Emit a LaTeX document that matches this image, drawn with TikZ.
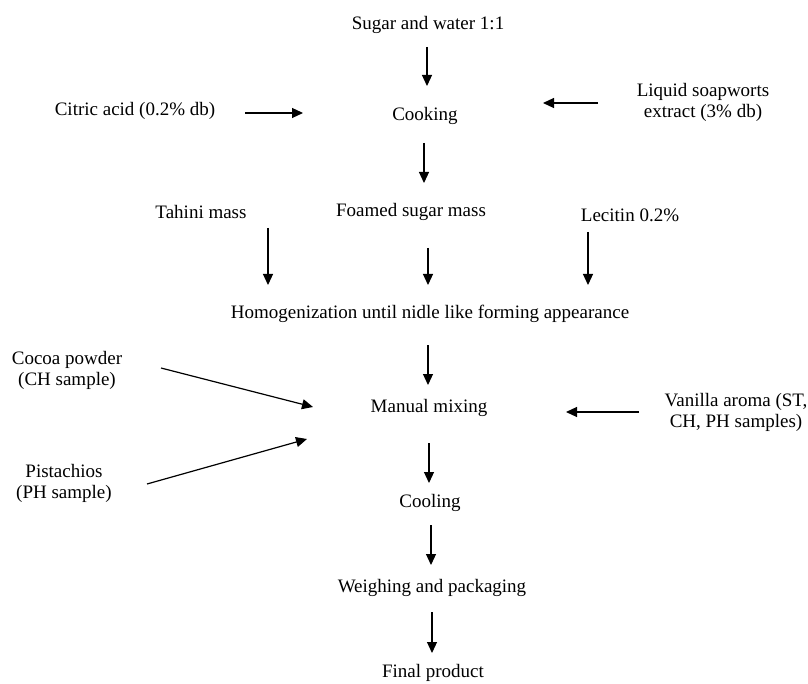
\documentclass[tikz,border=0pt]{standalone}
\usepackage{fontspec}
\setmainfont{Liberation Serif}
\usetikzlibrary{arrows.meta}
\begin{document}
\begin{tikzpicture}[x=1pt,y=-1pt,
  lbl/.style={inner sep=0pt, align=center, font=\fontsize{19}{21}\selectfont},
  flow/.style={line width=1.2pt, -{Triangle[length=11pt,width=10pt]}}]
\useasboundingbox (0,0) rectangle (808,684);
% nodes
\node[lbl] (sugar) at (428,25) {Sugar and water 1:1};
\node[lbl] (citric) at (135,111) {Citric acid (0.2\% db)};
\node[lbl] (cook) at (425,116) {Cooking};
\node[lbl] (soap) at (703,102) {Liquid soapworts\\extract (3\% db)};
\node[lbl] (tahini) at (201,212) {Tahini mass};
\node[lbl] (foam) at (411,212) {Foamed sugar mass};
\node[lbl] (lec) at (630,215) {Lecitin 0.2\%};
\node[lbl] (homo) at (430,314) {Homogenization until nidle like forming appearance};
\node[lbl] (cocoa) at (67,370) {Cocoa powder\\(CH sample)};
\node[lbl] (mix) at (429,408) {Manual mixing};
\node[lbl] (vanilla) at (736,412) {Vanilla aroma (ST,\\CH, PH samples)};
\node[lbl] (pist) at (64,483) {Pistachios\\(PH sample)};
\node[lbl] (cool) at (430,503) {Cooling};
\node[lbl] (weigh) at (432,588) {Weighing and packaging};
\node[lbl] (final) at (433,673) {Final product};
% connector end points
\coordinate (s1) at (427,47);  \coordinate (e1) at (427,86);
\coordinate (s2) at (245,113); \coordinate (e2) at (303,113);
\coordinate (s3) at (598,103); \coordinate (e3) at (543,103);
\coordinate (s4) at (424,143); \coordinate (e4) at (424,183);
\coordinate (s5) at (268,228); \coordinate (e5) at (268,285);
\coordinate (s6) at (428,248); \coordinate (e6) at (428,285);
\coordinate (s7) at (588,232); \coordinate (e7) at (588,285);
\coordinate (s8) at (428,345); \coordinate (e8) at (428,385);
\coordinate (s9) at (161,368); \coordinate (e9) at (313,407);
\coordinate (s10) at (147,484); \coordinate (e10) at (307,439);
\coordinate (s11) at (639,412); \coordinate (e11) at (566,412);
\coordinate (s12) at (429,443); \coordinate (e12) at (429,483);
\coordinate (s13) at (431,525); \coordinate (e13) at (431,565);
\coordinate (s14) at (432,612); \coordinate (e14) at (432,653);
% connectors
\draw[flow] (s1) -- (e1);
\draw[flow] (s2) -- (e2);
\draw[flow] (s3) -- (e3);
\draw[flow] (s4) -- (e4);
\draw[flow] (s5) -- (e5);
\draw[flow] (s6) -- (e6);
\draw[flow] (s7) -- (e7);
\draw[flow] (s8) -- (e8);
\draw[flow] (s9) -- (e9);
\draw[flow] (s10) -- (e10);
\draw[flow] (s11) -- (e11);
\draw[flow] (s12) -- (e12);
\draw[flow] (s13) -- (e13);
\draw[flow] (s14) -- (e14);
\end{tikzpicture}
\end{document}
